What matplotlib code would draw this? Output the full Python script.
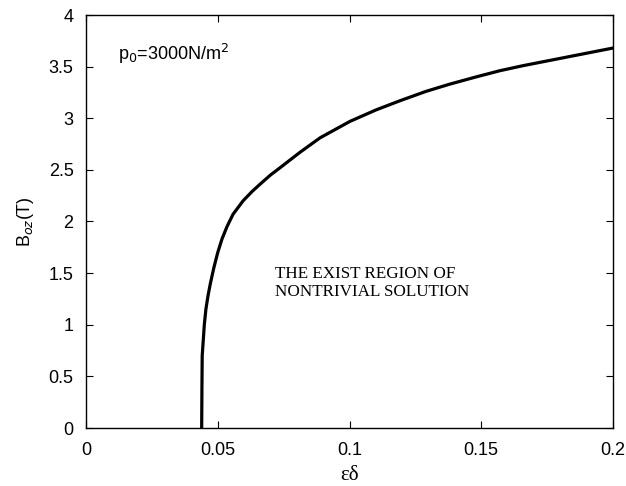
import numpy as np
import matplotlib.pyplot as plt

# Critical curve B_oz vs eps*delta, p0 = 3000 N/m^2
epsDelta = [0.0439, 0.0440, 0.0441, 0.0445, 0.0449, 0.0455, 0.0463, 0.0472, 0.0485,
            0.0500, 0.0516, 0.0535, 0.0558, 0.0596, 0.0630, 0.0660, 0.0700,
            0.0736, 0.0812, 0.0888, 0.1002, 0.1100, 0.1192, 0.1290, 0.1380,
            0.1480, 0.1570, 0.1660, 0.1760, 0.1880, 0.2000]
bField = [0.00, 0.40, 0.70, 0.85, 1.00, 1.15, 1.28, 1.40, 1.55,
          1.70, 1.83, 1.95, 2.07, 2.20, 2.29, 2.36, 2.45,
          2.52, 2.67, 2.81, 2.97, 3.08, 3.17, 3.26, 3.33,
          3.40, 3.46, 3.51, 3.56, 3.62, 3.68]

xTicks = [0, 0.05, 0.1, 0.15, 0.2]
xTickLabels = ['0', '0.05', '0.1', '0.15', '0.2']
yTicks = [0, 0.5, 1, 1.5, 2, 2.5, 3, 3.5, 4]
yTickLabels = ['0', '0.5', '1', '1.5', '2', '2.5', '3', '3.5', '4']

plt.rcParams['font.family'] = ['Liberation Sans', 'DejaVu Sans']

fig = plt.figure(figsize=(6.26, 4.86), dpi=100)
ax = fig.add_axes([86 / 626, 1 - 428 / 486, 527 / 626, 413 / 486])

ax.plot(epsDelta, bField, color='black', linewidth=2.3, solid_joinstyle='round')

ax.set_xlim(0, 0.2)
ax.set_ylim(0, 4)
ax.set_xticks(xTicks)
ax.set_xticklabels(xTickLabels)
ax.set_yticks(yTicks)
ax.set_yticklabels(yTickLabels)
ax.tick_params(direction='in', length=5, width=0.8, top=True, right=True,
               labelsize=13, colors='black')
ax.tick_params(axis='x', pad=10)
ax.tick_params(axis='y', pad=9)
for sp in ax.spines.values():
    sp.set_linewidth(1.0)

ax.set_xlabel('εδ', fontsize=15, family='Liberation Serif', labelpad=5)
ax.set_ylabel(r'B$_{oz}$(T)', fontsize=13, labelpad=9)

ax.text(0.012, 3.56, r'p$_0$=3000N/m$^2$', fontsize=13)
ax.text(0.0717, 1.57, 'THE EXIST REGION OF\nNONTRIVIAL SOLUTION',
        fontsize=12.3, family='Liberation Serif', linespacing=1.15, va='top')

fig.savefig('out.png', dpi=100)
